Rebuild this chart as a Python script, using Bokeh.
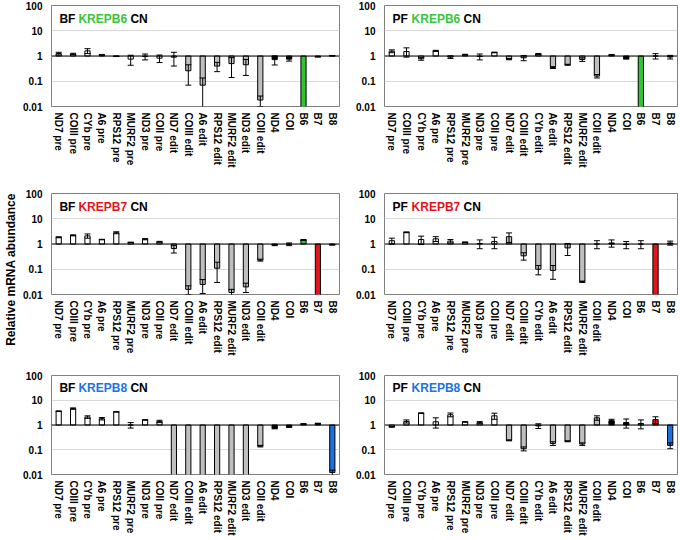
import math
from bokeh.plotting import figure
from bokeh.models import (ColumnDataSource, Whisker, TeeHead, Span, Label, FixedTicker,
                          NumeralTickFormatter, FactorRange, Range1d)
from bokeh.layouts import row, column
from bokeh.embed import file_html
from bokeh.resources import INLINE
from bokeh.core.properties import value

# ---------------- data ----------------
bf_genes = ["ND7 pre", "COIII pre", "CYb pre", "A6 pre", "RPS12 pre", "MURF2 pre", "ND3 pre", "COII pre",
            "ND7 edit", "COIII edit", "A6 edit", "RPS12 edit", "MURF2 edit", "ND3 edit", "COII edit",
            "ND4", "COI", "B6", "B7", "B8"]
pf_genes = ["ND7 pre", "COIII pre", "CYb pre", "A6 pre", "RPS12 pre", "MURF2 pre", "ND3 pre", "COII pre",
            "ND7 edit", "COIII edit", "CYb edit", "A6 edit", "RPS12 edit", "MURF2 edit", "COII edit",
            "ND4", "COI", "B6", "B7", "B8"]

bf_b6_val = [1.25, 1.2, 1.6, 1.1, 0.97, 0.75, 0.95, 0.82, 0.9, 0.26, 0.07, 0.4, 0.5, 0.45, 0.018, 0.72, 0.75, 0.005, 0.93, 1.03]
bf_b6_err = [0.15, 0.08, 0.35, 0.05, 0.02, 0.32, 0.25, 0.27, 0.5, 0.19, 0.065, 0.16, 0.36, 0.28, 0.008, 0.28, 0.12, 0, 0.02, 0.02]

pf_b6_val = [1.55, 1.5, 0.78, 1.6, 0.9, 1.12, 0.95, 1.38, 0.75, 0.85, 1.2, 0.35, 0.45, 0.73, 0.16, 1.1, 0.8, 0.005, 1.0, 0.91]
pf_b6_err = [0.2, 0.6, 0.1, 0.08, 0.1, 0.05, 0.25, 0.04, 0.04, 0.2, 0.06, 0.03, 0.02, 0.12, 0.025, 0.05, 0.05, 0, 0.24, 0.15]

bf_b7_val = [1.85, 2.2, 2.1, 1.5, 2.8, 1.15, 1.55, 1.22, 0.66, 0.016, 0.025, 0.11, 0.012, 0.02, 0.23, 0.9, 0.98, 1.45, 0.006, 0.93]
bf_b7_err = [0.08, 0.1, 0.4, 0.03, 0.25, 0.03, 0.08, 0.05, 0.22, 0.006, 0.014, 0.08, 0.004, 0.008, 0.02, 0.04, 0.12, 0.06, 0, 0.03]

pf_b7_val = [1.35, 2.9, 1.5, 1.6, 1.3, 1.17, 1.05, 1.25, 1.95, 0.34, 0.1, 0.09, 0.7, 0.032, 1.0, 1.1, 0.95, 1.0, 0.005, 1.1]
pf_b7_err = [0.35, 0.1, 0.55, 0.35, 0.2, 0.03, 0.4, 0.6, 0.8, 0.11, 0.04, 0.05, 0.35, 0.002, 0.35, 0.35, 0.3, 0.35, 0, 0.2]

bf_b8_val = [3.6, 4.6, 2.1, 1.8, 3.4, 1.0, 1.6, 1.4, 0.005, 0.005, 0.005, 0.005, 0.005, 0.005, 0.14, 0.74, 0.83, 1.1, 1.15, 0.012]
bf_b8_err = [0.1, 0.3, 0.25, 0.2, 0.05, 0.25, 0.03, 0.15, 0, 0, 0, 0, 0, 0, 0.01, 0.04, 0.03, 0.03, 0.03, 0.003]

pf_b8_val = [0.85, 1.4, 3.0, 1.35, 2.6, 1.33, 1.25, 2.35, 0.24, 0.11, 0.92, 0.18, 0.22, 0.17, 1.95, 1.5, 1.25, 1.15, 1.65, 0.15]
pf_b8_err = [0.04, 0.2, 0.08, 0.6, 0.45, 0.03, 0.12, 0.65, 0.01, 0.02, 0.2, 0.03, 0.01, 0.02, 0.4, 0.2, 0.5, 0.45, 0.5, 0.04]

y_ticks = [0.01, 0.1, 1, 10, 100]

# ---------------- style ----------------
FONT = "Liberation Sans"
GREEN = "#33c433"
RED = "#e3141c"
BLUE = "#1f6fe0"
GENE_COLORS = {"B6": GREEN, "B7": RED, "B8": BLUE}
TITLE_COLORS = {"KREPB6": "#3cc43c", "KREPB7": "#e3141c", "KREPB8": "#2273e0"}


def bar_color(cat, highlighted):
    if cat.endswith("pre"):
        return "white"
    if cat.endswith("edit"):
        return "#bfbfbf"
    if cat in highlighted:
        return GENE_COLORS[cat]
    return "black"


def make_panel(stage, gene, cats, vals, errs, highlighted, width, height,
               left, right, top, bottom):
    p = figure(x_range=FactorRange(*cats), y_range=Range1d(0.01, 100), y_axis_type="log",
               width=width, height=height, output_backend="svg", toolbar_location=None,
               min_border_left=left, min_border_right=right,
               min_border_top=top, min_border_bottom=bottom)
    p.background_fill_color = "white"
    p.outline_line_color = "#808080"
    p.outline_line_width = 1
    p.xgrid.grid_line_color = None
    p.ygrid.grid_line_color = "#d9d9d9"
    p.ygrid.grid_line_width = 1

    colors = [bar_color(c, highlighted) for c in cats]
    src = ColumnDataSource(dict(x=cats, top=vals, bottom=[1] * len(cats), color=colors))
    p.vbar(x="x", top="top", bottom="bottom", width=0.36, source=src,
           fill_color="color", line_color="black", line_width=1)

    wx, wu, wl = [], [], []
    for c, v, e in zip(cats, vals, errs):
        if e > 0:
            wx.append(c)
            wu.append(v + e)
            wl.append(max(v - e, 1e-4))
    wsrc = ColumnDataSource(dict(x=wx, upper=wu, lower=wl))
    w = Whisker(base="x", upper="upper", lower="lower", source=wsrc,
                line_color="black", line_width=1, level="overlay",
                upper_head=TeeHead(size=6, line_color="black", line_width=1),
                lower_head=TeeHead(size=6, line_color="black", line_width=1))
    p.add_layout(w)

    p.add_layout(Span(location=1, dimension="width", line_color="black", line_width=1))

    # axes
    p.yaxis.ticker = FixedTicker(ticks=y_ticks)
    p.yaxis.formatter = NumeralTickFormatter(format="0.[00]")
    for ax in (p.xaxis[0], p.yaxis[0]):
        ax.axis_line_color = None
        ax.major_tick_line_color = None
        ax.minor_tick_line_color = None
        ax.major_tick_out = 0
        ax.major_tick_in = 0
        ax.major_label_text_font = FONT
        ax.major_label_text_font_style = "bold"
        ax.major_label_text_color = "black"
    p.yaxis.major_label_text_font_size = "10px"
    p.yaxis.major_label_standoff = 9
    p.xaxis.major_label_text_font_size = "10px"
    p.xaxis.major_label_orientation = "vertical"
    p.xaxis.major_label_standoff = 6

    # title inside plot
    parts = [(stage, "black", 0), (gene, TITLE_COLORS[gene], 19), ("CN", "black", 71)]
    for txt, col, off in parts:
        p.add_layout(Label(x=0.55, y=30, x_offset=off, text=txt, text_color=col,
                           text_font=FONT, text_font_style="bold", text_font_size="12px",
                           text_baseline="middle", text_align="left"))
    return p


panels = [
    ("BF", "KREPB6", bf_genes, bf_b6_val, bf_b6_err, {"B6"}),
    ("PF", "KREPB6", pf_genes, pf_b6_val, pf_b6_err, {"B6"}),
    ("BF", "KREPB7", bf_genes, bf_b7_val, bf_b7_err, {"B6", "B7"}),
    ("PF", "KREPB7", pf_genes, pf_b7_val, pf_b7_err, {"B7"}),
    ("BF", "KREPB8", bf_genes, bf_b8_val, bf_b8_err, {"B8"}),
    ("PF", "KREPB8", pf_genes, pf_b8_val, pf_b8_err, {"B6", "B7", "B8"}),
]

row_dims = [(183, 5, 77), (182, 10, 71), (173, 10, 62)]  # height, top, bottom
rows = []
for r in range(3):
    h, t, b = row_dims[r]
    figs = []
    for c in range(2):
        stage, gene, cats, vals, errs, hl = panels[r * 2 + c]
        if c == 0:
            f = make_panel(stage, gene, cats, vals, errs, hl, 322, h, 29, 3, t, b)
        else:
            f = make_panel(stage, gene, cats, vals, errs, hl, 336, h, 42, 1, t, b)
        figs.append(f)
    rows.append(row(*figs))

total_h = sum(d[0] for d in row_dims)
lab = figure(width=20, height=total_h, x_range=Range1d(0, 1), y_range=Range1d(0, 1),
             output_backend="svg", toolbar_location=None,
             min_border_left=0, min_border_right=0, min_border_top=0, min_border_bottom=0)
lab.axis.visible = False
lab.grid.visible = False
lab.outline_line_color = None
lab.text(x=[0.5], y=[0.5], text=["Relative mRNA abundance"], angle=math.pi / 2,
         text_align="center", text_baseline="middle", text_font=value(FONT),
         text_font_style="bold", text_font_size="12px", text_color="black")

layout = row(lab, column(*rows))

open("out.html", "w").write(file_html(layout, INLINE))
